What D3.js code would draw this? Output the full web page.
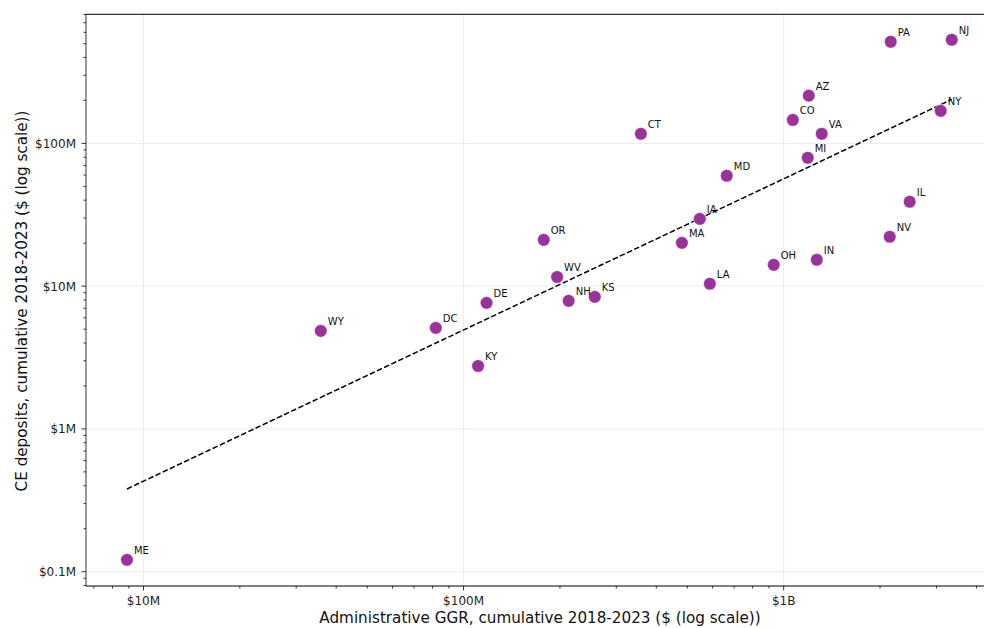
<!DOCTYPE html>
<html>
<head>
<meta charset="utf-8">
<script src="https://cdn.jsdelivr.net/npm/d3@7"></script>
<style>
  html, body { margin: 0; padding: 0; background: #fff; }
  svg { display: block; font-family: "DejaVu Sans", sans-serif; }
</style>
</head>
<body>
<svg id="chart" width="984" height="628"></svg>
<script>
// State-level totals, cumulative 2018-2023 (US dollars)
const states = ["ME", "WY", "DC", "DE", "KY", "OR", "WV", "NH", "KS", "CT", "MA", "IA", "LA", "MD",
                "OH", "CO", "MI", "AZ", "IN", "VA", "PA", "NV", "IL", "NY", "NJ"];
const ggr = [8.88e6, 35.8e6, 81.9e6, 118e6, 111e6, 178e6, 196e6, 213e6, 257e6, 358e6, 481e6, 547e6,
             588e6, 664e6, 931e6, 1.068e9, 1.189e9, 1.198e9, 1.269e9, 1.315e9, 2.16e9, 2.145e9,
             2.476e9, 3.095e9, 3.35e9];
const deposits = [0.121e6, 4.86e6, 5.10e6, 7.64e6, 2.76e6, 21.1e6, 11.6e6, 7.89e6, 8.41e6, 116.7e6,
                  20.1e6, 29.6e6, 10.4e6, 59.3e6, 14.1e6, 146e6, 79.3e6, 216e6, 15.3e6, 116.7e6,
                  515e6, 22.2e6, 39.0e6, 169e6, 532e6];

// Log-log linear fit: log10(deposits) = intercept + slope * log10(ggr)
const trendSlope = 1.059;
const trendIntercept = -1.779;

// Axis ticks
const xTicks = [1e7, 1e8, 1e9];
const xTickLabels = ["$10M", "$100M", "$1B"];
const yTicks = [1e5, 1e6, 1e7, 1e8];
const yTickLabels = ["$0.1M", "$1M", "$10M", "$100M"];

const xLabel = "Administrative GGR, cumulative 2018-2023 ($ (log scale))";
const yLabel = "CE deposits, cumulative 2018-2023 ($ (log scale))";

const svg = d3.select("#chart");
const plot = { left: 86, right: 994, top: 14.3, bottom: 586 };

const x = d3.scaleLog().domain([6.614e6, 4.54e9]).range([plot.left, plot.right]);
const y = d3.scaleLog().domain([7.94e4, 8.02e8]).range([plot.bottom, plot.top]);

// Minor tick positions (2..9 within each decade)
function minorTicks(scale) {
  const [d0, d1] = scale.domain();
  const out = [];
  for (let e = Math.floor(Math.log10(d0)); e <= Math.ceil(Math.log10(d1)); e++) {
    for (let m = 2; m <= 9; m++) {
      const v = m * Math.pow(10, e);
      if (v >= d0 && v <= d1) out.push(v);
    }
  }
  return out;
}

// Grid lines
const grid = svg.append("g").attr("stroke", "#ebebeb").attr("stroke-width", 1);
grid.selectAll("line.vx").data(xTicks).join("line")
  .attr("x1", d => x(d)).attr("x2", d => x(d))
  .attr("y1", plot.top).attr("y2", plot.bottom);
grid.selectAll("line.hy").data(yTicks).join("line")
  .attr("x1", plot.left).attr("x2", plot.right)
  .attr("y1", d => y(d)).attr("y2", d => y(d));

// Trend line across the GGR range
const xExt = d3.extent(ggr);
const trend = xExt.map(v => [v, Math.pow(10, trendIntercept + trendSlope * Math.log10(v))]);
svg.append("line")
  .attr("x1", x(trend[0][0])).attr("y1", y(trend[0][1]))
  .attr("x2", x(trend[1][0])).attr("y2", y(trend[1][1]))
  .attr("stroke", "#000").attr("stroke-width", 1.5)
  .attr("stroke-dasharray", "5.5,2.4");

// Points
const data = states.map((s, i) => ({ s, gx: ggr[i], dy: deposits[i] }));
svg.append("g").selectAll("circle").data(data).join("circle")
  .attr("cx", d => x(d.gx)).attr("cy", d => y(d.dy))
  .attr("r", 6.3)
  .attr("fill", "#993399")
  .attr("stroke", "#ffffff").attr("stroke-opacity", 0.6).attr("stroke-width", 0.8);

// Point labels
svg.append("g").selectAll("text").data(data).join("text")
  .attr("x", d => x(d.gx) + 7).attr("y", d => y(d.dy) - 6)
  .attr("font-size", 10).attr("fill", "#111")
  .text(d => d.s);

// Axes spines
const axisG = svg.append("g").attr("stroke", "#000").attr("stroke-width", 1);
axisG.append("line").attr("x1", plot.left).attr("x2", plot.left)
  .attr("y1", plot.top).attr("y2", plot.bottom).attr("stroke", "#333");
axisG.append("line").attr("x1", plot.left).attr("x2", plot.right)
  .attr("y1", plot.bottom).attr("y2", plot.bottom);
axisG.append("line").attr("x1", plot.left).attr("x2", plot.right)
  .attr("y1", plot.top).attr("y2", plot.top);

// X ticks
const xt = svg.append("g").attr("stroke", "#000").attr("stroke-width", 0.8);
xt.selectAll("line.maj").data(xTicks).join("line")
  .attr("x1", d => x(d)).attr("x2", d => x(d))
  .attr("y1", plot.bottom).attr("y2", plot.bottom + 4.5);
xt.selectAll("line.min").data(minorTicks(x)).join("line")
  .attr("x1", d => x(d)).attr("x2", d => x(d))
  .attr("y1", plot.bottom).attr("y2", plot.bottom + 2.5);
svg.append("g").selectAll("text").data(xTicks).join("text")
  .attr("x", d => x(d)).attr("y", 605)
  .attr("text-anchor", "middle").attr("font-size", 12).attr("fill", "#222")
  .text((d, i) => xTickLabels[i]);

// Y ticks
const yt = svg.append("g").attr("stroke", "#000").attr("stroke-width", 0.8);
yt.selectAll("line.maj").data(yTicks).join("line")
  .attr("x1", plot.left - 4.5).attr("x2", plot.left)
  .attr("y1", d => y(d)).attr("y2", d => y(d));
yt.selectAll("line.min").data(minorTicks(y)).join("line")
  .attr("x1", plot.left - 2.5).attr("x2", plot.left)
  .attr("y1", d => y(d)).attr("y2", d => y(d));
svg.append("g").selectAll("text").data(yTicks).join("text")
  .attr("x", 76).attr("y", d => y(d) + 4.4)
  .attr("text-anchor", "end").attr("font-size", 12).attr("fill", "#222")
  .text((d, i) => yTickLabels[i]);

// Axis titles
svg.append("text")
  .attr("x", 540).attr("y", 623)
  .attr("text-anchor", "middle").attr("font-size", 15.2).attr("fill", "#111")
  .text(xLabel);
svg.append("text")
  .attr("transform", "translate(27,301) rotate(-90)")
  .attr("text-anchor", "middle").attr("font-size", 15.2).attr("fill", "#111")
  .text(yLabel);
</script>
</body>
</html>
